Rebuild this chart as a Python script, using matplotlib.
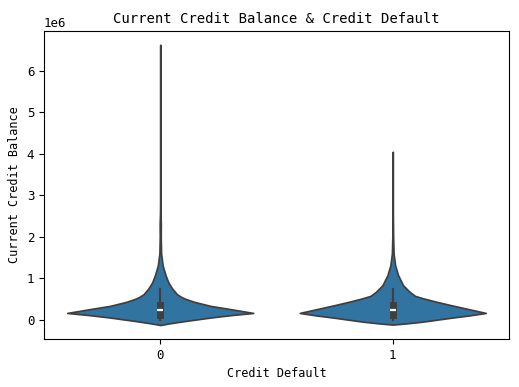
import matplotlib
matplotlib.use("Agg")
import matplotlib.pyplot as plt
import numpy as np

# violin outlines: level (in 1e6) and relative half width
categories = ["0", "1"]

levels_0 = [-0.12, -0.08, -0.02, 0.06, 0.12, 0.17, 0.26, 0.34, 0.44, 0.51, 0.55, 0.62,
            0.75, 0.90, 1.07, 1.31, 1.6, 2.0, 2.3, 2.6, 3.2, 6.62]
width_0 = [0.0, 0.10, 0.28, 0.54, 0.77, 1.0, 0.76, 0.54, 0.36, 0.27, 0.23, 0.18,
           0.13, 0.088, 0.058, 0.026, 0.009, 0.005, 0.006, 0.002, 0.0, 0.0]

levels_1 = [-0.11, -0.08, -0.04, 0.05, 0.11, 0.17, 0.27, 0.36, 0.45, 0.52, 0.58, 0.68,
            0.84, 1.08, 1.32, 1.6, 2.0, 2.6, 4.05]
width_1 = [0.0, 0.15, 0.32, 0.61, 0.82, 1.0, 0.80, 0.62, 0.45, 0.33, 0.24, 0.18,
           0.11, 0.057, 0.025, 0.009, 0.004, 0.001, 0.0]

# inner box: lower whisker, q1, median, q3, upper whisker (1e6)
box_0 = [0.0, 0.115, 0.23, 0.37, 0.745]
box_1 = [0.0, 0.11, 0.23, 0.36, 0.735]

plt.rcParams["font.family"] = ["DejaVu Sans Mono", "DejaVu Sans"]

fill_color = "#3274a1"
line_color = "#3f3f3f"

fig = plt.figure(figsize=(5.19, 3.87), dpi=100)
ax = fig.add_axes([44 / 519, 48 / 387, 465 / 519, 308 / 387])

violins = [(levels_0, width_0, box_0), (levels_1, width_1, box_1)]
for pos, (lev, wid, box) in enumerate(violins):
    y = np.array(lev) * 1e6
    w = np.array(wid) * 0.4
    ax.fill_betweenx(y, pos - w, pos + w, facecolor=fill_color,
                     edgecolor=line_color, linewidth=1.25, zorder=2)
    b = np.array(box) * 1e6
    ax.plot([pos, pos], [b[0], b[4]], color=line_color, lw=1.6, zorder=3)
    ax.plot([pos, pos], [b[1], b[3]], color=line_color, lw=5, zorder=3)
    ax.plot([pos], [b[2]], marker="_", color="white", ms=4.5, mew=1.6, zorder=4)

ax.set_xlim(-0.5, 1.5)
ax.set_xticks(range(len(categories)))
ax.set_xticklabels(categories)
ax.tick_params(labelsize=9)
ax.yaxis.get_offset_text().set_fontsize(9)

ax.set_title("Current Credit Balance & Credit Default", fontsize=10)
ax.set_xlabel("Credit Default", fontsize=8.5)
ax.set_ylabel("Current Credit Balance", fontsize=8.5)

fig.savefig("out.png", dpi=100)
